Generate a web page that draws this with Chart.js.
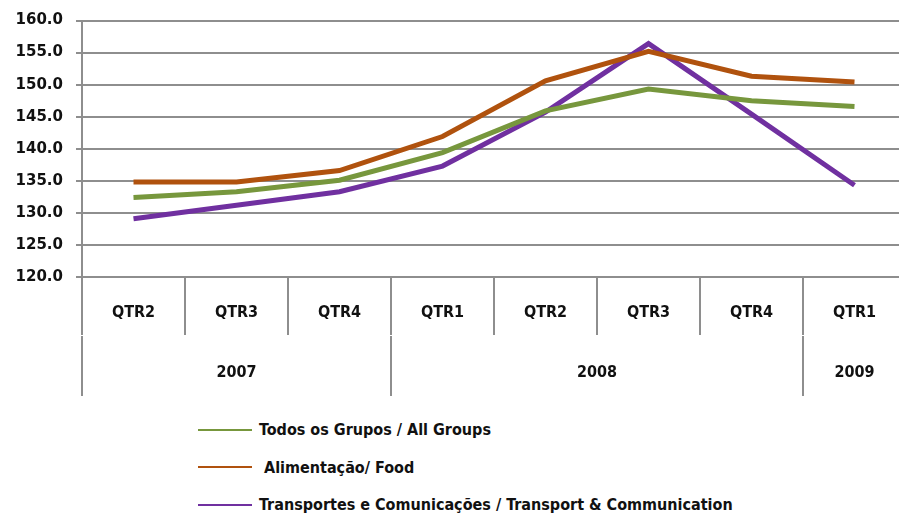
<!DOCTYPE html>
<html>
<head>
<meta charset="utf-8">
<script src="https://cdn.jsdelivr.net/npm/chart.js@4"></script>
<style>
    html, body { margin: 0; padding: 0; background: #fff; overflow: hidden; }
    #wrap { position: relative; width: 899px; height: 513px; overflow: hidden; }
    #box { position: absolute; left: 0; top: 0; width: 906px; height: 400px; }
    #legend { position: absolute; left: 198px; top: 411px; font: bold 16px "DejaVu Sans Condensed", sans-serif; color: #111; }
    #legend .row { display: flex; align-items: center; height: 37.5px; white-space: pre; }
    #legend .swatch { width: 54px; height: 2px; margin-right: 7px; }
</style>
</head>
<body>
<div id="wrap">
    <div id="box"><canvas id="chartIpc"></canvas></div>
    <div id="legend"></div>
</div>
<script>
const quarters = ['QTR2', 'QTR3', 'QTR4', 'QTR1', 'QTR2', 'QTR3', 'QTR4', 'QTR1'];
const yearTicks = [0, 1.5, 3, 5, 7, 7.5, 8];
const yearLabelAt = { 1.5: '2007', 5: '2008', 7.5: '2009' };
const yearBorders = [0, 3, 7, 8];
const yTicks = [120, 125, 130, 135, 140, 145, 150, 155, 160];

const todosGrupos = [132.4, 133.3, 135.1, 139.4, 145.9, 149.3, 147.5, 146.6];
const alimentacao = [134.8, 134.8, 136.6, 141.9, 150.6, 155.2, 151.3, 150.4];
const transportes = [129.1, 131.2, 133.3, 137.3, 145.7, 156.4, 145.4, 134.3];

const axisFont = { family: '"DejaVu Sans Condensed", sans-serif', size: 16, weight: 'bold' };
const gridColor = '#8e8e8e';

const datasets = [
    { label: 'Todos os Grupos / All Groups', data: todosGrupos, borderColor: '#77973d' },
    { label: ' Alimentação/ Food', data: alimentacao, borderColor: '#b0520e' },
    { label: 'Transportes e Comunicações / Transport & Communication', data: transportes, borderColor: '#7030a0' },
].map((ds) => ({
    ...ds,
    borderWidth: 5,
    pointRadius: 0,
    tension: 0,
    fill: false,
    xAxisID: 'x',
}));

const chart = new Chart(document.getElementById('chartIpc'), {
    type: 'line',
    data: { labels: quarters, datasets },
    options: {
        responsive: true,
        maintainAspectRatio: false,
        animation: false,
        layout: { padding: { top: 18, right: 0, bottom: 5, left: 0 } },
        plugins: {
            legend: { display: false },
            tooltip: { enabled: false },
        },
        scales: {
            y: {
                min: 120,
                max: 160,
                afterFit: (scale) => { scale.width = 82; },
                afterBuildTicks: (scale) => { scale.ticks = yTicks.map((value) => ({ value })); },
                ticks: {
                    color: '#111',
                    font: { family: '"DejaVu Sans", sans-serif', size: 15, weight: 'bold', lineHeight: 1 },
                    padding: 13,
                    callback: (value) => Number(value).toFixed(1),
                },
                grid: { color: gridColor, lineWidth: 2, tickLength: 6 },
                border: { color: gridColor, width: 2 },
            },
            x: {
                offset: true,
                afterFit: (scale) => { scale.height = 59; },
                ticks: { color: '#111', font: axisFont, padding: -32, maxRotation: 0, autoSkip: false },
                grid: { offset: true, drawOnChartArea: false, color: gridColor, lineWidth: 2, tickLength: 58 },
                border: { color: gridColor, width: 2 },
            },
            anos: {
                type: 'linear',
                position: 'bottom',
                min: 0,
                max: 8,
                afterFit: (scale) => { scale.height = 59; },
                afterBuildTicks: (scale) => { scale.ticks = yearTicks.map((value) => ({ value })); },
                ticks: {
                    color: '#111',
                    font: axisFont,
                    padding: -33,
                    maxRotation: 0,
                    autoSkip: false,
                    callback: (value) => yearLabelAt[value] || '',
                },
                grid: {
                    drawOnChartArea: false,
                    tickLength: 60,
                    lineWidth: 2,
                    color: (ctx) => (yearBorders.includes(ctx.tick?.value) ? gridColor : 'rgba(0,0,0,0)'),
                },
                border: { display: false },
            },
        },
    },
});

const legend = document.getElementById('legend');
chart.data.datasets.forEach((ds) => {
    const row = document.createElement('div');
    row.className = 'row';
    const swatch = document.createElement('span');
    swatch.className = 'swatch';
    swatch.style.background = ds.borderColor;
    const text = document.createElement('span');
    text.textContent = ds.label;
    row.append(swatch, text);
    legend.append(row);
});
</script>
</body>
</html>
